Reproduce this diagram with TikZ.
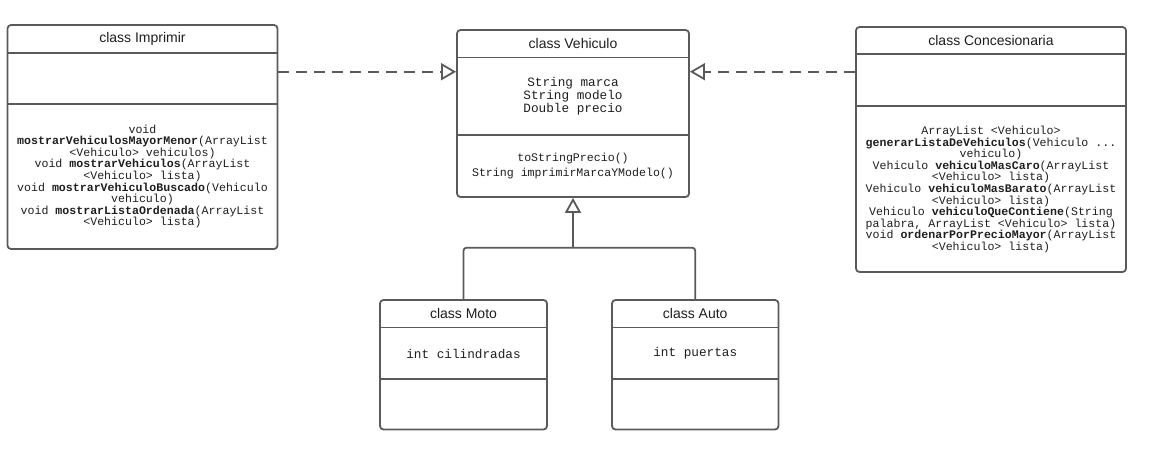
\documentclass[tikz,border=0pt]{standalone}
\usepackage{fontspec}
\setmainfont{Liberation Sans}
\setmonofont{Liberation Mono}
\usetikzlibrary{arrows.meta}
\definecolor{ln}{HTML}{5A5A5A}
\definecolor{tx}{HTML}{1E1E1E}
\tikzset{
  classbox/.style={draw=ln, line width=1.8pt, rounded corners=3.5pt, inner sep=0pt, fill=none},
  divider/.style={draw=ln, line width=1.8pt},
  titletext/.style={text=tx, font=\fontsize{14}{16}\selectfont, inner sep=0pt},
  codetext/.style={text=tx, align=center, inner sep=0pt, font=\ttfamily\fontsize{11.6}{11.6}\selectfont},
  attrtext/.style={text=tx, align=center, inner sep=0pt, font=\ttfamily\fontsize{12.7}{13}\selectfont},
  codetextC/.style={text=tx, align=center, inner sep=0pt, font=\ttfamily\fontsize{11.6}{14.6}\selectfont},
  conn/.style={draw=ln, line width=1.8pt},
  realize/.style={draw=ln, line width=1.8pt, dash pattern=on 11pt off 7pt, -{Triangle[open, length=15pt, width=17pt]}},
  inherit/.style={draw=ln, line width=1.8pt, -{Triangle[open, length=15pt, width=16pt]}}
}
\begin{document}
\begin{tikzpicture}[x=1pt,y=-1pt]
\useasboundingbox (0,0) rectangle (1152,459);

% class Imprimir
\node[classbox, minimum width=270pt, minimum height=224pt] (imp) at (142.5,137) {};
\draw[divider] (imp.west |- 0,53) -- (imp.east |- 0,53);
\draw[divider] (imp.west |- 0,104) -- (imp.east |- 0,104);
\node[titletext] (impT) at (142.5,38.5) {class Imprimir};
\node[codetext] (impM) at (142.5,176.5) {void\\
\textbf{mostrarVehiculosMayorMenor}(ArrayList\\
<Vehiculo> vehiculos)\\
void \textbf{mostrarVehiculos}(ArrayList\\
<Vehiculo> lista)\\
void \textbf{mostrarVehiculoBuscado}(Vehiculo\\
vehiculo)\\
void \textbf{mostrarListaOrdenada}(ArrayList\\
<Vehiculo> lista)};

% class Vehiculo
\node[classbox, minimum width=232pt, minimum height=167pt] (veh) at (573,113.5) {};
\draw[divider] (veh.west |- 0,57.5) -- (veh.east |- 0,57.5);
\draw[divider] (veh.west |- 0,135) -- (veh.east |- 0,135);
\node[titletext] (vehT) at (573,43.5) {class Vehiculo};
\node[attrtext] (vehA) at (573,96) {String marca\\String modelo\\Double precio};
\node[codetextC] (vehM) at (573,166) {toStringPrecio()\\String imprimirMarcaYModelo()};

% class Concesionaria
\node[classbox, minimum width=270pt, minimum height=245pt] (con) at (991,149.5) {};
\draw[divider] (con.west |- 0,54) -- (con.east |- 0,54);
\draw[divider] (con.west |- 0,106) -- (con.east |- 0,106);
\node[titletext] (conT) at (991,40) {class Concesionaria};
\node[codetext] (conM) at (991,189.5) {ArrayList <Vehiculo>\\
\textbf{generarListaDeVehiculos}(Vehiculo ...\\
vehiculo)\\
Vehiculo \textbf{vehiculoMasCaro}(ArrayList\\
<Vehiculo> lista)\\
Vehiculo \textbf{vehiculoMasBarato}(ArrayList\\
<Vehiculo> lista)\\
Vehiculo \textbf{vehiculoQueContiene}(String\\
palabra, ArrayList <Vehiculo> lista)\\
void \textbf{ordenarPorPrecioMayor}(ArrayList\\
<Vehiculo> lista)};

% class Moto
\node[classbox, minimum width=167pt, minimum height=129.5pt] (moto) at (463.5,364.75) {};
\draw[divider] (moto.west |- 0,327.5) -- (moto.east |- 0,327.5);
\draw[divider] (moto.west |- 0,379) -- (moto.east |- 0,379);
\node[titletext] (motoT) at (463.5,313) {class Moto};
\node[attrtext] (motoA) at (463.5,353.5) {int cilindradas};

% class Auto
\node[classbox, minimum width=166.5pt, minimum height=129.5pt] (auto) at (695.25,364.75) {};
\draw[divider] (auto.west |- 0,327.5) -- (auto.east |- 0,327.5);
\draw[divider] (auto.west |- 0,379) -- (auto.east |- 0,379);
\node[titletext] (autoT) at (695.25,313) {class Auto};
\node[attrtext] (autoA) at (695.25,353.5) {int puertas};

% connectors
\coordinate (j) at (573,247.7);
\draw[conn, rounded corners=3pt] (moto.north) |- (j) -| (auto.north);
\draw[inherit] (j) -- (veh.south);
\draw[realize] (imp.east |- 0,71.7) -- (veh.west |- 0,71.7);
\draw[realize] (con.west |- 0,71.7) -- (veh.east |- 0,71.7);
\end{tikzpicture}
\end{document}
